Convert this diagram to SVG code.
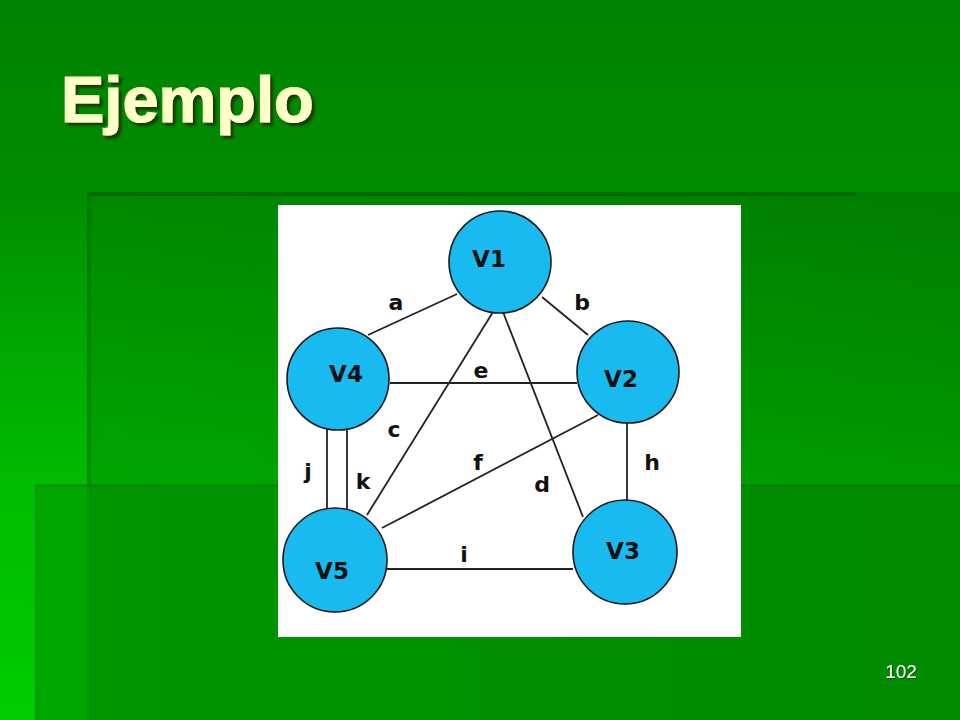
<svg xmlns="http://www.w3.org/2000/svg" width="960" height="720" viewBox="0 0 960 720">
<defs>
<linearGradient id="bg" x1="0" y1="0" x2="0" y2="720" gradientUnits="userSpaceOnUse">
<stop offset="0" stop-color="#008300"/>
<stop offset="0.267" stop-color="#008c00"/>
<stop offset="0.45" stop-color="#00a400"/>
<stop offset="0.67" stop-color="#00bb00"/>
<stop offset="1" stop-color="#00cc00"/>
</linearGradient>
<linearGradient id="r1" x1="0" y1="192" x2="0" y2="485" gradientUnits="userSpaceOnUse">
<stop offset="0" stop-color="#008800"/>
<stop offset="1" stop-color="#00a600"/>
</linearGradient>
<linearGradient id="r1h" x1="90" y1="0" x2="960" y2="0" gradientUnits="userSpaceOnUse">
<stop offset="0" stop-color="#000" stop-opacity="0"/>
<stop offset="1" stop-color="#000" stop-opacity="0.08"/>
</linearGradient>
<linearGradient id="r2" x1="35" y1="0" x2="960" y2="0" gradientUnits="userSpaceOnUse">
<stop offset="0" stop-color="#00a800"/>
<stop offset="1" stop-color="#008c00"/>
</linearGradient>
<linearGradient id="r3" x1="90" y1="0" x2="960" y2="0" gradientUnits="userSpaceOnUse">
<stop offset="0" stop-color="#009600"/>
<stop offset="1" stop-color="#008a00"/>
</linearGradient>
<filter id="shadow" x="-10%" y="-20%" width="130%" height="150%">
<feDropShadow dx="3" dy="3" stdDeviation="0.8" flood-color="#1a3300" flood-opacity="0.9"/>
</filter>
<filter id="shadowSmall" x="-10%" y="-20%" width="130%" height="150%">
<feDropShadow dx="1" dy="1" stdDeviation="0.5" flood-color="#103000" flood-opacity="0.7"/>
</filter>
</defs>
<style>
.edge{stroke:#222;stroke-width:1.8;fill:none}
.node circle{fill:#18baef;stroke:#1a1a1a;stroke-width:1.6}
.nlab{font-family:"DejaVu Sans",sans-serif;font-weight:bold;font-size:23px;fill:#111;text-anchor:middle}
.elab{font-family:"DejaVu Sans",sans-serif;font-weight:bold;font-size:22px;fill:#111;text-anchor:middle}
.title{font-family:"Liberation Sans",Arial,sans-serif;font-weight:bold;font-size:65px;fill:#ffffc8;stroke:#ffffc8;stroke-width:1.2}
</style>
<!-- background -->
<rect x="0" y="0" width="960" height="720" fill="url(#bg)"/>
<rect x="90" y="192" width="870" height="293" fill="url(#r1)"/>
<rect x="90" y="192" width="870" height="293" fill="url(#r1h)"/>
<rect x="35" y="485" width="925" height="235" fill="url(#r2)"/>
<rect x="90" y="485" width="870" height="235" fill="url(#r3)"/>
<rect x="87" y="192" width="4" height="293" fill="#006e00" opacity="0.55"/>
<rect x="87" y="485" width="4" height="235" fill="#007a00" opacity="0.35"/>
<rect x="90" y="192" width="766" height="4" fill="#006400" opacity="0.8"/>
<rect x="35" y="484" width="925" height="3" fill="#007000" opacity="0.4"/>
<rect x="35" y="485" width="3" height="235" fill="#008800" opacity="0.4"/>
<!-- title -->
<text x="61" y="122" class="title" filter="url(#shadow)">Ejemplo</text>
<!-- picture -->
<rect x="278" y="205" width="463" height="432" fill="#ffffff"/>
<g id="connectors">
<line class="edge" x1="457" y1="294" x2="368" y2="335"/>
<line class="edge" x1="542" y1="297" x2="588" y2="335"/>
<line class="edge" x1="390" y1="383" x2="577" y2="383"/>
<line class="edge" x1="493" y1="312" x2="367" y2="515"/>
<line class="edge" x1="503" y1="312" x2="583" y2="517"/>
<line class="edge" x1="598" y1="415" x2="382" y2="528"/>
<line class="edge" x1="627" y1="423" x2="627" y2="501"/>
<line class="edge" x1="387" y1="569" x2="573" y2="569"/>
<line class="edge" x1="327" y1="428" x2="327" y2="510"/>
<line class="edge" x1="347" y1="428" x2="347" y2="510"/>
<text class="elab" x="396" y="310">a</text>
<text class="elab" x="582" y="310">b</text>
<text class="elab" x="394" y="437">c</text>
<text class="elab" x="542" y="492">d</text>
<text class="elab" x="481" y="378">e</text>
<text class="elab" x="478" y="470">f</text>
<text class="elab" x="652" y="470">h</text>
<text class="elab" x="464" y="562">i</text>
<text class="elab" x="308" y="479">j</text>
<text class="elab" x="363" y="489">k</text>
</g>
<g id="v1" class="node"><circle cx="500" cy="262" r="51"/><text class="nlab" x="489" y="267">V1</text></g>
<g id="v2" class="node"><circle cx="628" cy="372" r="51"/><text class="nlab" x="621" y="387">V2</text></g>
<g id="v3" class="node"><circle cx="625" cy="552" r="52"/><text class="nlab" x="623" y="559">V3</text></g>
<g id="v4" class="node"><circle cx="338" cy="379" r="51"/><text class="nlab" x="346" y="382">V4</text></g>
<g id="v5" class="node"><circle cx="335" cy="560" r="52"/><text class="nlab" x="332" y="579">V5</text></g>
<!-- page number -->
<text x="901" y="678" font-family="Liberation Sans,Arial,sans-serif" font-size="19" fill="#ffffff" text-anchor="middle" filter="url(#shadowSmall)">102</text>
</svg>
